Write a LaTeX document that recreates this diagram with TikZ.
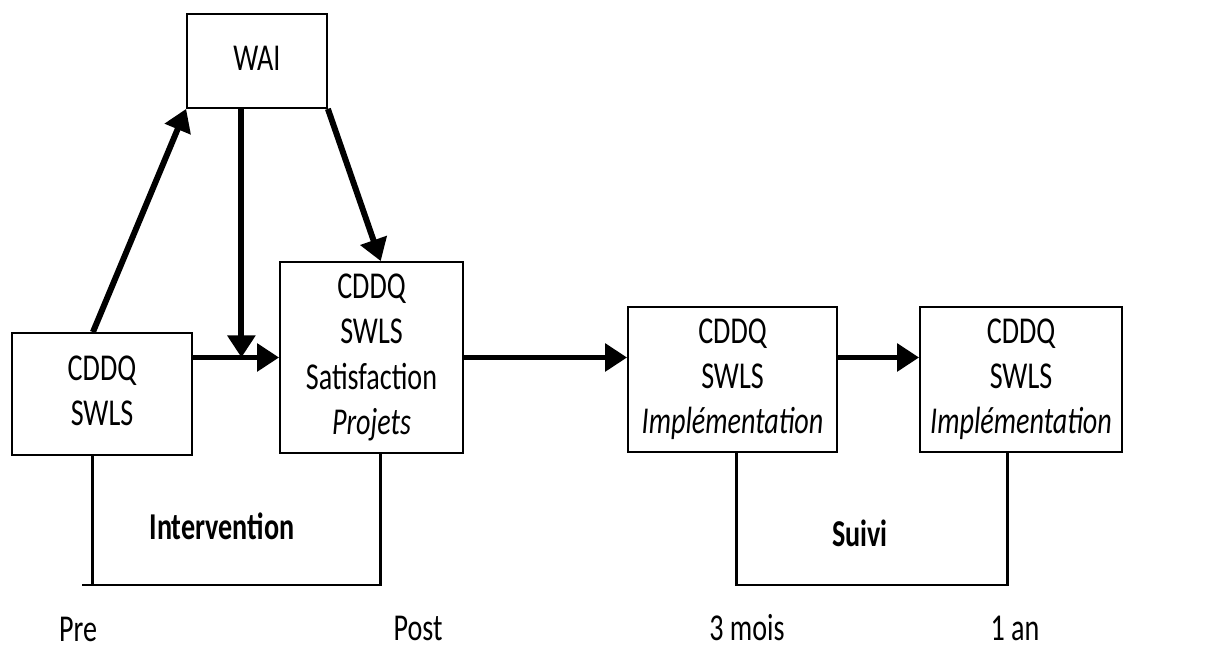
\documentclass[tikz,border=0pt]{standalone}
\usepackage{fontspec}
\usepackage{graphicx}
\setmainfont{Carlito}
\usetikzlibrary{arrows.meta,calc}

% tall text, as in the scanned figure
\newcommand{\tallstack}[1]{\scalebox{1}[1.35]{\begin{tabular}{@{}c@{}}#1\end{tabular}}}
\newcommand{\tallword}[1]{\scalebox{1}[1.35]{#1}}

\begin{document}
\begin{tikzpicture}[
  box/.style={draw, line width=1pt, inner sep=0pt,
              font=\fontsize{16}{19}\selectfont},
  flow/.style={line width=3.4pt, -{Triangle[length=0.44cm,width=0.54cm]}},
  span/.style={line width=1.7pt},
  phase/.style={font=\fontsize{16}{19}\selectfont\bfseries},
  stamp/.style={font=\fontsize{16}{19}\selectfont, anchor=base, inner sep=0pt}
]
\useasboundingbox (0,0) rectangle (24.46,13);

% Measurement boxes
\node[box, minimum width=3.6cm,  minimum height=2.44cm] (pre)   at (2.04,5.12)  {\tallstack{CDDQ\\SWLS}};
\node[box, minimum width=2.8cm,  minimum height=1.88cm] (wai)   at (5.14,11.78) {\tallstack{WAI}};
\node[box, minimum width=3.66cm, minimum height=3.82cm] (post)  at (7.43,5.85)  {\tallstack{CDDQ\\SWLS\\Satisfaction\\\textit{Projets}}};
\node[box, minimum width=4.18cm, minimum height=2.9cm]  (three) at (14.65,5.41) {\tallstack{CDDQ\\SWLS\\\textit{Implémentation}}};
\node[box, minimum width=4.04cm, minimum height=2.9cm]  (year)  at (20.42,5.41) {\tallstack{CDDQ\\SWLS\\\textit{Implémentation}}};

% Anchor points on the box edges
\coordinate (preTop)  at ($(pre.north west)!0.45!(pre.north east)$);
\coordinate (preBot)  at ($(pre.south west)!0.45!(pre.south east)$);
\coordinate (waiBot)  at ($(wai.south west)!0.39!(wai.south east)$);
\coordinate (postTop) at ($(post.north west)!0.55!(post.north east)$);
\coordinate (postBot) at ($(post.south west)!0.55!(post.south east)$);
\coordinate (threeBot) at ($(three.south west)!0.52!(three.south east)$);
\coordinate (yearBot)  at ($(year.south west)!0.436!(year.south east)$);
\coordinate (join) at (waiBot |- post.west);

% Arrows
\draw[flow] (preTop) -- (wai.south west);
\draw[flow] (waiBot) -- (join);
\draw[flow] (wai.south east) -- (postTop);
\draw[flow] (pre.east |- post.west) -- (post.west);
\draw[flow] (post.east) -- (post.east -| three.west);
\draw[flow] (three.east |- post.east) -- (year.west |- post.east);

% Phase brackets
\coordinate (iCorner) at (1.64,1.3);
\draw[span] (preBot) -- (preBot |- iCorner);
\draw[span] (iCorner) -- (iCorner -| postBot) -- (postBot);
\draw[span] (threeBot) -- (threeBot |- iCorner) -- (yearBot |- iCorner) -- (yearBot);

% Phase labels
\node[phase] (inter) at (4.44,2.47) {\tallword{Intervention}};
\node[phase] (suivi) at (17.2,2.34) {\tallword{Suivi}};

% Time points
\node[stamp] (tPre)   at (1.56,0.17)  {\tallword{Pre}};
\node[stamp] (tPost)  at (8.36,0.18)  {\tallword{Post}};
\node[stamp] (tThree) at (14.94,0.18) {\tallword{3 mois}};
\node[stamp] (tYear)  at (20.3,0.18)  {\tallword{1 an}};

\end{tikzpicture}
\end{document}
